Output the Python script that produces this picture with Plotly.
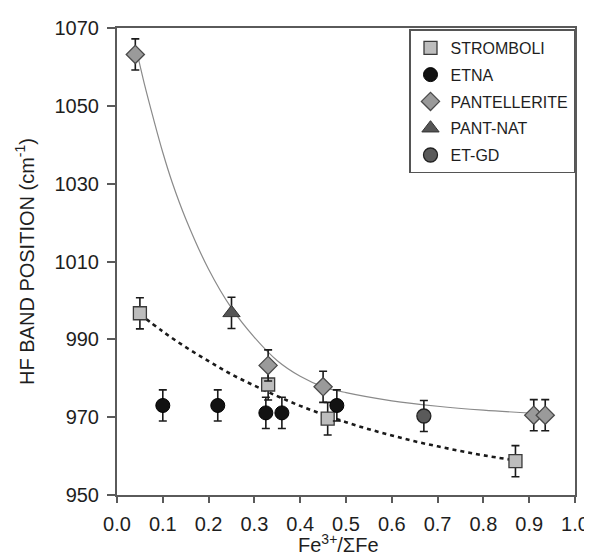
import plotly.graph_objects as go

# ---- data ----
strom_x = [0.05, 0.33, 0.46, 0.87]
strom_y = [996.7, 978.4, 969.6, 958.7]
strom_err = [4, 4, 4.2, 4]

etna_x = [0.10, 0.22, 0.325, 0.36, 0.48]
etna_y = [973.0, 973.0, 971.1, 971.1, 973.0]
etna_err = [4, 4, 4, 4, 4]

pant_x = [0.04, 0.33, 0.45, 0.91, 0.935]
pant_y = [1063.2, 983.3, 977.8, 970.5, 970.5]
pant_err = [4, 4, 4, 4, 4]

pantnat_x = [0.25]
pantnat_y = [996.8]
pantnat_err = [4]

etgd_x = [0.67]
etgd_y = [970.3]
etgd_err = [4]

# fitted trend lines
pant_fit_x = [0.045, 0.06, 0.08, 0.10, 0.12, 0.15, 0.20, 0.25, 0.30, 0.35, 0.40,
              0.45, 0.50, 0.60, 0.70, 0.80, 0.91]
pant_fit_y = [1063.0, 1055.5, 1046.5, 1038.0, 1030.5, 1021.0, 1008.0, 998.0, 990.5,
              984.5, 980.5, 977.8, 976.3, 974.2, 972.8, 971.8, 971.0]

strom_fit_x = [0.05, 0.10, 0.15, 0.20, 0.25, 0.30, 0.35, 0.40, 0.45, 0.50, 0.55,
               0.60, 0.65, 0.70, 0.75, 0.80, 0.87]
strom_fit_y = [996.5, 992.0, 988.0, 984.4, 981.0, 978.1, 975.4, 972.9, 970.7, 968.7,
               966.9, 965.3, 963.8, 962.5, 961.3, 960.2, 958.9]

x_ticks = [0.0, 0.1, 0.2, 0.3, 0.4, 0.5, 0.6, 0.7, 0.8, 0.9, 1.0]
y_ticks = [950, 970, 990, 1010, 1030, 1050, 1070]

x_title = "Fe<sup>3+</sup>/ΣFe"
y_title = "HF BAND POSITION (cm<sup>-1</sup>)"

FONT = "Liberation Sans, Arial, sans-serif"
TXT = "#1e1e1e"

fig = go.Figure()

fig.add_trace(go.Scatter(x=pant_fit_x, y=pant_fit_y, mode="lines",
                         line=dict(color="#8a8a8a", width=1.2, shape="spline"),
                         showlegend=False, hoverinfo="skip"))
fig.add_trace(go.Scatter(x=strom_fit_x, y=strom_fit_y, mode="lines",
                         line=dict(color="#1a1a1a", width=2.6, dash="4px,4px", shape="spline"),
                         showlegend=False, hoverinfo="skip"))

def err(vals):
    return dict(type="data", array=vals, visible=True, color="#1a1a1a", thickness=1.6, width=4)

series = [
    ("STROMBOLI", strom_x, strom_y, strom_err, "square", 13, "#bdbdbd", "#3a3a3a", 1.3),
    ("ETNA", etna_x, etna_y, etna_err, "circle", 14, "#121212", "#000000", 1),
    ("PANTELLERITE", pant_x, pant_y, pant_err, "diamond", 14, "#9a9a9a", "#4a4a4a", 1.3),
    ("PANT-NAT", pantnat_x, pantnat_y, pantnat_err, "triangle-up", 15, "#555555", "#333333", 1),
    ("ET-GD", etgd_x, etgd_y, etgd_err, "circle", 14, "#5a5a5a", "#222222", 1.3),
]
for name, xs, ys, es, sym, sz, fc, lc, lw in series:
    fig.add_trace(go.Scatter(x=xs, y=ys, mode="markers", name=name, legendgroup=name,
                             error_y=err(es),
                             marker=dict(symbol=sym, size=sz, color=fc,
                                         line=dict(color=lc, width=lw))))

axis_common = dict(showline=True, linecolor="#5a5a5a", linewidth=2, mirror=True,
                   ticks="outside", tickwidth=1.5, tickcolor="#5a5a5a",
                   showgrid=False, zeroline=False, automargin=False,
                   tickfont=dict(family=FONT, size=20, color=TXT))

fig.update_xaxes(range=[0, 1], tickvals=x_ticks, ticklen=6, ticklabelstandoff=4,
                 ticktext=[f"{v:.1f}" for v in x_ticks],
                 **axis_common)
fig.update_yaxes(range=[950, 1070], tickvals=y_ticks, ticklen=8, ticklabelstandoff=4,
                 ticktext=[str(v) for v in y_ticks],
                 title=dict(text=y_title,
                            font=dict(family=FONT, size=20, color=TXT), standoff=15),
                 **axis_common)

fig.add_annotation(text=x_title, xref="paper", yref="paper", x=0.483, y=-0.135,
                   xanchor="center", yanchor="bottom", showarrow=False,
                   font=dict(family=FONT, size=20, color=TXT))

fig.update_layout(
    width=592, height=558,
    margin=dict(l=109, r=25, t=20, b=71),
    paper_bgcolor="white", plot_bgcolor="white",
    font=dict(family=FONT, size=16, color=TXT),
    legend=dict(x=1, xanchor="right", y=0.997, yanchor="top",
                bordercolor="#555555", borderwidth=1.5, bgcolor="white",
                font=dict(family=FONT, size=16, color=TXT),
                itemwidth=30, tracegroupgap=3),
)

fig.write_html("out.html")
